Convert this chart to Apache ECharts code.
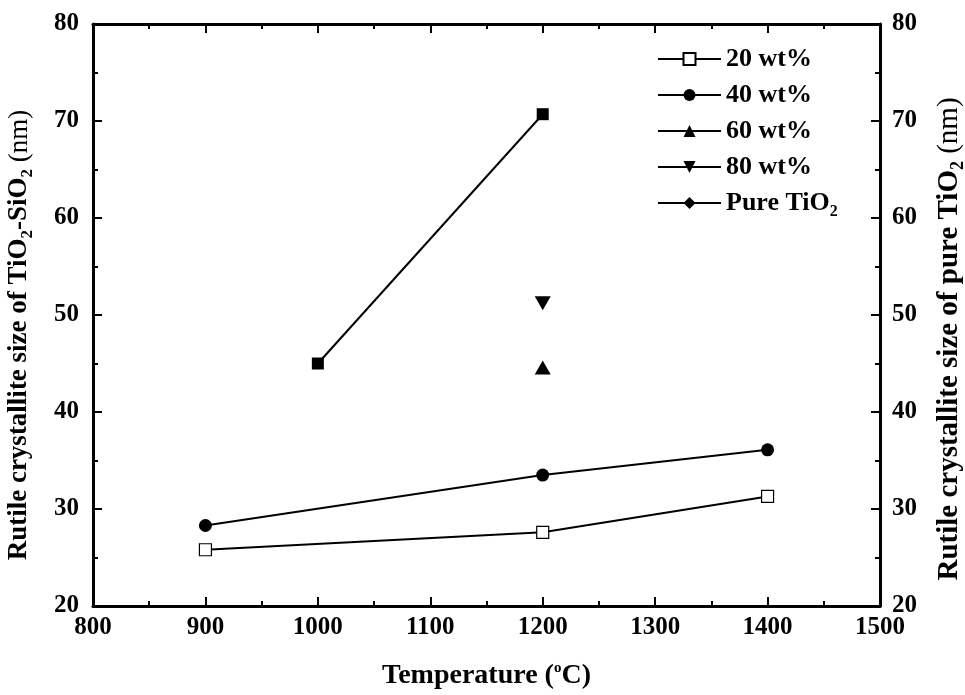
<!DOCTYPE html>
<html>
<head>
<meta charset="utf-8">
<script src="https://cdn.jsdelivr.net/npm/echarts@6/dist/echarts.min.js"></script>
<style>html,body{margin:0;padding:0;background:#fff;}#c{width:965px;height:695px;}</style>
</head>
<body>
<div id="c"></div>
<script>
const temps20 = [900, 1200, 1400];
const size20 = [25.8, 27.6, 31.3];
const temps40 = [900, 1200, 1400];
const size40 = [28.3, 33.5, 36.1];
const temps60 = [1200];
const size60 = [44.6];
const temps80 = [1200];
const size80 = [51.2];
const tempsPure = [1000, 1200];
const sizePure = [45.0, 70.7];
const xTicks = [800, 900, 1000, 1100, 1200, 1300, 1400, 1500];
const yTicks = [20, 30, 40, 50, 60, 70, 80];
const seriesNames = ['20 wt%', '40 wt%', '60 wt%', '80 wt%', 'Pure TiO2'];

const FONT = 'Liberation Serif';
const pair = (xs, ys) => xs.map((x, i) => [x, ys[i]]);

const axisLine = {show: true, onZero: false, lineStyle: {color: '#000', width: 3}};
const axisTick = {show: true, inside: true, length: 9, lineStyle: {color: '#000', width: 2}};
const minorTick = {show: true, splitNumber: 2, length: 5, lineStyle: {color: '#000', width: 2}};
const labelStyle = {color: '#000', fontFamily: FONT, fontWeight: 'bold', fontSize: 25};

const chart = echarts.init(document.getElementById('c'), null, {renderer: 'canvas'});
chart.setOption({
  backgroundColor: '#fff',
  animation: false,
  grid: {left: 93, right: 85, top: 24, bottom: 89, containLabel: false, outerBoundsMode: 'none'},
  legend: {
    orient: 'vertical',
    left: 652,
    top: 41,
    itemWidth: 63,
    itemHeight: 15,
    itemGap: 10,
    data: seriesNames.map(n => ({name: n})),
    formatter: n => n === 'Pure TiO2' ? 'Pure TiO{s|2}' : n,
    textStyle: {
      color: '#000', fontFamily: FONT, fontWeight: 'bold', fontSize: 26,
      rich: {s: {fontFamily: FONT, fontWeight: 'bold', fontSize: 16, verticalAlign: 'bottom', padding: [18, 0, 0, 0]}}
    }
  },
  xAxis: [{
    type: 'value', min: 800, max: 1500, interval: 100, position: 'bottom',
    axisLine, axisTick, minorTick, splitLine: {show: false},
    axisLabel: Object.assign({margin: 9, formatter: v => xTicks.includes(v) ? String(v) : ''}, labelStyle),
    name: 'Temperature ({o|o}C)', nameLocation: 'middle', nameGap: 55,
    nameTextStyle: {
      color: '#000', fontFamily: FONT, fontWeight: 'bold', fontSize: 28,
      rich: {o: {fontFamily: FONT, fontSize: 15, verticalAlign: 'top', padding: [0, 0, 14, 0]}}
    }
  }, {
    type: 'value', min: 800, max: 1500, interval: 100, position: 'top',
    axisLine, axisTick, minorTick, splitLine: {show: false}, axisLabel: {show: false}
  }],
  yAxis: [{
    type: 'value', min: 20, max: 80, interval: 10, position: 'left',
    axisLine, axisTick, minorTick, splitLine: {show: false},
    axisLabel: Object.assign({margin: 14, formatter: v => yTicks.includes(v) ? String(v) : ''}, labelStyle),
    name: 'Rutile crystallite size of TiO{s|2}-SiO{s|2} {n|(nm)}', nameLocation: 'middle', nameGap: 57, nameRotate: 90,
    nameTextStyle: {
      color: '#000', fontFamily: FONT, fontWeight: 'bold', fontSize: 27, padding: [0, 40, 0, 0],
      rich: {
        s: {fontFamily: FONT, fontWeight: 'bold', fontSize: 17, verticalAlign: 'bottom', padding: [16, 0, 0, 0]},
        n: {fontFamily: FONT, fontWeight: 'normal', fontSize: 27}
      }
    }
  }, {
    type: 'value', min: 20, max: 80, interval: 10, position: 'right',
    axisLine, axisTick, minorTick, splitLine: {show: false},
    axisLabel: Object.assign({margin: 12, formatter: v => yTicks.includes(v) ? String(v) : ''}, labelStyle),
    name: 'Rutile crystallite size of pure TiO{s|2} {n|(nm)}', nameLocation: 'middle', nameGap: 52, nameRotate: 90,
    nameTextStyle: {
      color: '#000', fontFamily: FONT, fontWeight: 'bold', fontSize: 29, padding: [0, 48, 0, 0],
      rich: {
        s: {fontFamily: FONT, fontWeight: 'bold', fontSize: 18, verticalAlign: 'bottom', padding: [17, 0, 0, 0]},
        n: {fontFamily: FONT, fontWeight: 'normal', fontSize: 29}
      }
    }
  }],
  series: [
    {name: '20 wt%', type: 'line', xAxisIndex: 0, yAxisIndex: 0, data: pair(temps20, size20),
     symbol: 'rect', symbolSize: 12, showAllSymbol: true,
     itemStyle: {color: '#fff', borderColor: '#000', borderWidth: 1.2},
     lineStyle: {color: '#000', width: 2}},
    {name: '40 wt%', type: 'line', xAxisIndex: 0, yAxisIndex: 0, data: pair(temps40, size40),
     symbol: 'circle', symbolSize: 13,
     itemStyle: {color: '#000'}, lineStyle: {color: '#000', width: 2}},
    {name: '60 wt%', type: 'line', xAxisIndex: 0, yAxisIndex: 0, data: pair(temps60, size60),
     symbol: 'triangle', symbolSize: [16, 14],
     itemStyle: {color: '#000'}, lineStyle: {color: '#000', width: 2}},
    {name: '80 wt%', type: 'line', xAxisIndex: 0, yAxisIndex: 0, data: pair(temps80, size80),
     symbol: 'triangle', symbolRotate: 180, symbolSize: [16, 14],
     itemStyle: {color: '#000'}, lineStyle: {color: '#000', width: 2}},
    {name: 'Pure TiO2', type: 'line', xAxisIndex: 0, yAxisIndex: 1,
     data: pair(tempsPure, sizePure).map(p => ({value: p, symbol: 'rect'})),
     symbol: 'diamond', symbolSize: 12,
     itemStyle: {color: '#000'}, lineStyle: {color: '#000', width: 2}}
  ]
});
</script>
</body>
</html>
